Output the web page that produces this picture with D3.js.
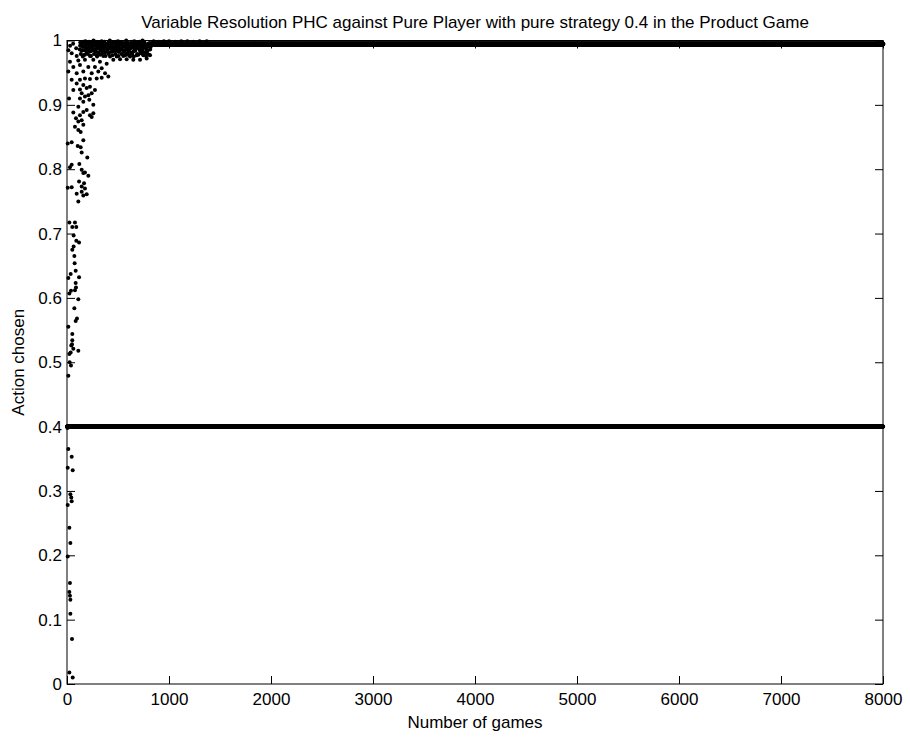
<!DOCTYPE html>
<html lang="en">
  <head>
    <meta charset="utf-8">
    <title>Variable Resolution PHC</title>
    <script src="https://cdn.jsdelivr.net/npm/d3@7"></script>
    <style>
      body { margin: 0; background: white; }
      text { font-family: "Liberation Sans", Arial, sans-serif; fill: black; }
    </style>
  </head>

  <body>
    <div id="container"></div>

<script>
    // game count and the pure opponent
    const totalGames = 8000;
    const pureStrategy = 0.4;

    // PHC converged level and the game where the flat band starts
    const convergedAction = 0.9945;
    const convergedFrom = 820;

    const xTicks = [0, 1000, 2000, 3000, 4000, 5000, 6000, 7000, 8000];
    const yTicks = [0, 0.1, 0.2, 0.3, 0.4, 0.5, 0.6, 0.7, 0.8, 0.9, 1];

    // early exploration, [game, action]
    const lowPhase = [
      [13, 0.365], [46, 0.353], [7, 0.336], [56, 0.332], [33, 0.295], [42, 0.29],
      [46, 0.284], [7, 0.278], [23, 0.243], [33, 0.219], [7, 0.198], [29, 0.157],
      [23, 0.143], [29, 0.137], [33, 0.131], [33, 0.109], [49, 0.07], [23, 0.018],
      [56, 0.01], [5, 0.398]
    ];

    const midPhase = [
      [13, 0.479], [39, 0.495], [26, 0.5], [23, 0.513], [36, 0.515], [42, 0.526],
      [49, 0.528], [52, 0.534], [62, 0.521], [111, 0.518], [52, 0.544], [13, 0.555],
      [85, 0.564], [98, 0.568], [72, 0.584], [111, 0.598], [23, 0.607], [39, 0.611],
      [78, 0.612], [88, 0.616], [85, 0.623], [13, 0.631], [118, 0.632], [36, 0.637],
      [85, 0.642], [75, 0.654], [72, 0.665], [52, 0.675], [65, 0.68], [118, 0.686],
      [91, 0.689], [65, 0.697], [23, 0.717], [78, 0.717], [52, 0.71], [91, 0.71],
      [111, 0.75]
    ];

    const highPhase = [
      [160, 0.759], [193, 0.761], [144, 0.765], [95, 0.762], [46, 0.772], [7, 0.771],
      [144, 0.773], [176, 0.77], [118, 0.781], [167, 0.778], [209, 0.79], [176, 0.795],
      [46, 0.807], [121, 0.808], [29, 0.803], [144, 0.799], [160, 0.794], [199, 0.818],
      [144, 0.826], [105, 0.836], [46, 0.842], [7, 0.84], [134, 0.834], [160, 0.845],
      [111, 0.861], [134, 0.858], [78, 0.866], [160, 0.869], [111, 0.874], [144, 0.876],
      [88, 0.879], [127, 0.884], [62, 0.888], [160, 0.889], [242, 0.881], [225, 0.884],
      [258, 0.887], [193, 0.892], [111, 0.897], [258, 0.9], [160, 0.905], [219, 0.908],
      [127, 0.91], [20, 0.91], [176, 0.913], [209, 0.915], [144, 0.918], [242, 0.918],
      [62, 0.923], [127, 0.924], [193, 0.926], [274, 0.923], [160, 0.931], [225, 0.928],
      [95, 0.933], [46, 0.939], [127, 0.939], [176, 0.941], [225, 0.94], [291, 0.941],
      [340, 0.942], [405, 0.944], [13, 0.952], [95, 0.949], [160, 0.952], [242, 0.949],
      [307, 0.952], [373, 0.949], [62, 0.959], [127, 0.962], [209, 0.959], [274, 0.959],
      [340, 0.957], [389, 0.964], [29, 0.967], [111, 0.969], [176, 0.97], [258, 0.97],
      [323, 0.967], [454, 0.97], [520, 0.971], [585, 0.971], [650, 0.97], [716, 0.97],
      [781, 0.972], [814, 0.977], [748, 0.98], [683, 0.977], [618, 0.975], [552, 0.976],
      [487, 0.975], [422, 0.975], [356, 0.976], [291, 0.977], [225, 0.976], [160, 0.977],
      [95, 0.976], [46, 0.98], [13, 0.985], [30, 0.992], [60, 0.995], [90, 0.988]
    ];

    // the crowded cluster just under 1
    const topCluster = [
      [130, 0.997], [150, 0.99], [170, 0.985], [185, 0.995], [200, 0.988], [215, 0.998],
      [230, 0.983], [245, 0.992], [260, 0.996], [275, 0.986], [290, 0.994], [305, 0.981],
      [320, 0.997], [335, 0.989], [350, 0.984], [365, 0.995], [380, 0.991], [395, 0.986],
      [410, 0.998], [425, 0.982], [440, 0.993], [455, 0.988], [470, 0.996], [485, 0.984],
      [500, 0.991], [515, 0.997], [530, 0.987], [545, 0.993], [560, 0.982], [575, 0.995],
      [590, 0.989], [605, 0.985], [620, 0.996], [635, 0.991], [650, 0.983], [665, 0.994],
      [680, 0.988], [695, 0.997], [710, 0.986], [725, 0.992], [740, 0.984], [755, 0.995],
      [770, 0.989], [785, 0.98], [800, 0.993], [815, 0.986],
      [140, 0.993], [160, 0.998], [178, 0.989], [193, 0.982], [208, 0.994], [222, 0.99],
      [238, 0.997], [252, 0.985], [268, 0.992], [283, 0.998], [298, 0.987], [312, 0.993],
      [328, 0.984], [342, 0.996], [358, 0.99], [372, 0.981], [388, 0.994], [402, 0.987],
      [418, 0.992], [432, 0.996], [448, 0.983], [462, 0.99], [478, 0.994], [492, 0.986],
      [508, 0.982], [522, 0.993], [538, 0.997], [552, 0.984], [568, 0.99], [582, 0.978],
      [598, 0.994], [612, 0.987], [628, 0.981], [642, 0.995], [658, 0.988], [672, 0.992],
      [688, 0.979], [702, 0.996], [718, 0.983], [732, 0.99], [748, 0.977], [762, 0.993],
      [778, 0.986], [792, 0.995],
      [125, 0.986], [135, 0.979], [145, 0.984], [155, 0.975], [165, 0.992], [175, 0.978],
      [190, 0.987], [205, 0.979], [218, 0.985], [235, 0.976], [248, 0.988], [265, 0.979],
      [280, 0.983], [295, 0.975], [310, 0.988], [325, 0.978], [345, 0.98], [362, 0.986],
      [378, 0.976], [392, 0.983], [408, 0.979], [428, 0.988], [445, 0.977], [460, 0.984],
      [475, 0.979], [490, 0.99], [505, 0.976], [520, 0.985], [535, 0.979], [550, 0.991],
      [565, 0.977], [580, 0.986], [595, 0.981], [610, 0.977], [625, 0.988], [640, 0.979],
      [655, 0.975], [670, 0.984], [685, 0.993], [700, 0.978], [715, 0.99], [730, 0.98],
      [745, 0.988], [760, 0.981], [775, 0.976], [790, 0.984], [805, 0.978], [820, 0.99],
      [128, 0.992], [148, 0.996], [168, 0.991], [188, 0.998], [203, 0.993], [226, 0.995],
      [242, 0.989], [258, 0.993], [272, 0.997], [288, 0.99], [302, 0.996], [318, 0.991],
      [332, 0.995], [348, 0.992], [368, 0.998], [384, 0.989], [398, 0.995], [414, 0.99],
      [436, 0.992], [452, 0.997], [468, 0.989], [482, 0.998], [498, 0.994], [512, 0.988],
      [528, 0.995], [548, 0.99], [562, 0.996], [578, 0.991], [592, 0.997], [608, 0.992],
      [624, 0.989], [638, 0.998], [654, 0.993], [668, 0.997], [684, 0.99], [698, 0.993],
      [714, 0.998], [728, 0.995], [744, 0.991], [758, 0.998], [774, 0.993], [788, 0.99],
      [808, 0.996],
      [180, 0.999], [260, 1.0], [340, 0.999], [420, 1.0], [500, 0.999], [580, 1.0],
      [660, 0.999], [740, 1.0], [850, 0.999], [900, 0.998], [950, 0.999], [1000, 0.999],
      [1060, 0.998], [1120, 0.999], [1180, 0.999], [1240, 0.998], [1300, 0.999], [1370, 0.999]
    ];

    const svgWidth = 910, svgHeight = 738;
    const margin = {top: 40.5, right: 27, bottom: 54, left: 67};
    const width = svgWidth - margin.left - margin.right;
    const height = svgHeight - margin.top - margin.bottom;
    const fontSize = "17px";

    const svg = d3.select("#container").append("svg")
      .attr("width", svgWidth)
      .attr("height", svgHeight)
      .append("g")
      .attr("transform", `translate(${margin.left}, ${margin.top})`);

    const x = d3.scaleLinear().domain([0, totalGames]).range([0, width]);
    const y = d3.scaleLinear().domain([0, 1]).range([height, 0]);

    const fmt = (d) => String(+d.toFixed(1));

    // matlab style box: ticks inside on every side, labels only bottom/left
    const axBottom = svg.append("g")
      .attr("transform", `translate(0, ${height})`)
      .call(d3.axisBottom(x).tickValues(xTicks).tickFormat(fmt).tickSizeInner(-8).tickSizeOuter(0).tickPadding(9));
    const axLeft = svg.append("g")
      .call(d3.axisLeft(y).tickValues(yTicks).tickFormat(fmt).tickSizeInner(-8).tickSizeOuter(0).tickPadding(5));
    const axTop = svg.append("g")
      .call(d3.axisTop(x).tickValues(xTicks).tickFormat("").tickSizeInner(-8).tickSizeOuter(0));
    const axRight = svg.append("g")
      .attr("transform", `translate(${width}, 0)`)
      .call(d3.axisRight(y).tickValues(yTicks).tickFormat("").tickSizeInner(-8).tickSizeOuter(0));

    [axBottom, axLeft, axTop, axRight].forEach((g) => {
      g.select(".domain").remove();
      g.selectAll(".tick line").attr("stroke", "black");
      g.selectAll(".tick text").style("font-size", fontSize).attr("fill", "black");
    });

    svg.append("rect")
      .attr("width", width)
      .attr("height", height)
      .attr("fill", "none")
      .attr("stroke", "black")
      .attr("stroke-width", 1);

    // pure player: same action every game
    const pureGames = d3.range(1, totalGames + 1);
    const tailGames = d3.range(convergedFrom, totalGames + 1);

    const dots = svg.append("g").attr("fill", "black");

    dots.selectAll("circle.pure")
      .data(pureGames)
      .enter()
      .append("circle")
        .attr("class", "pure")
        .attr("cx", (d) => x(d))
        .attr("cy", y(pureStrategy))
        .attr("r", 2.1);

    dots.selectAll("circle.tail")
      .data(tailGames)
      .enter()
      .append("circle")
        .attr("class", "tail")
        .attr("cx", (d) => x(d))
        .attr("cy", y(convergedAction))
        .attr("r", 2.4);

    dots.selectAll("circle.early")
      .data(lowPhase.concat(midPhase, highPhase, topCluster))
      .enter()
      .append("circle")
        .attr("class", "early")
        .attr("cx", (d) => x(d[0]))
        .attr("cy", (d) => y(d[1]))
        .attr("r", 2);

    svg.append("text")
      .attr("x", width / 2)
      .attr("y", -13)
      .attr("text-anchor", "middle")
      .style("font-size", fontSize)
      .text("Variable Resolution PHC against Pure Player with pure strategy 0.4 in the Product Game");

    svg.append("text")
      .attr("x", width / 2)
      .attr("y", height + 44)
      .attr("text-anchor", "middle")
      .style("font-size", fontSize)
      .text("Number of games");

    svg.append("text")
      .attr("transform", `translate(${-43}, ${height / 2}) rotate(-90)`)
      .attr("text-anchor", "middle")
      .style("font-size", fontSize)
      .text("Action chosen");
  </script>
  </body>
</html>
